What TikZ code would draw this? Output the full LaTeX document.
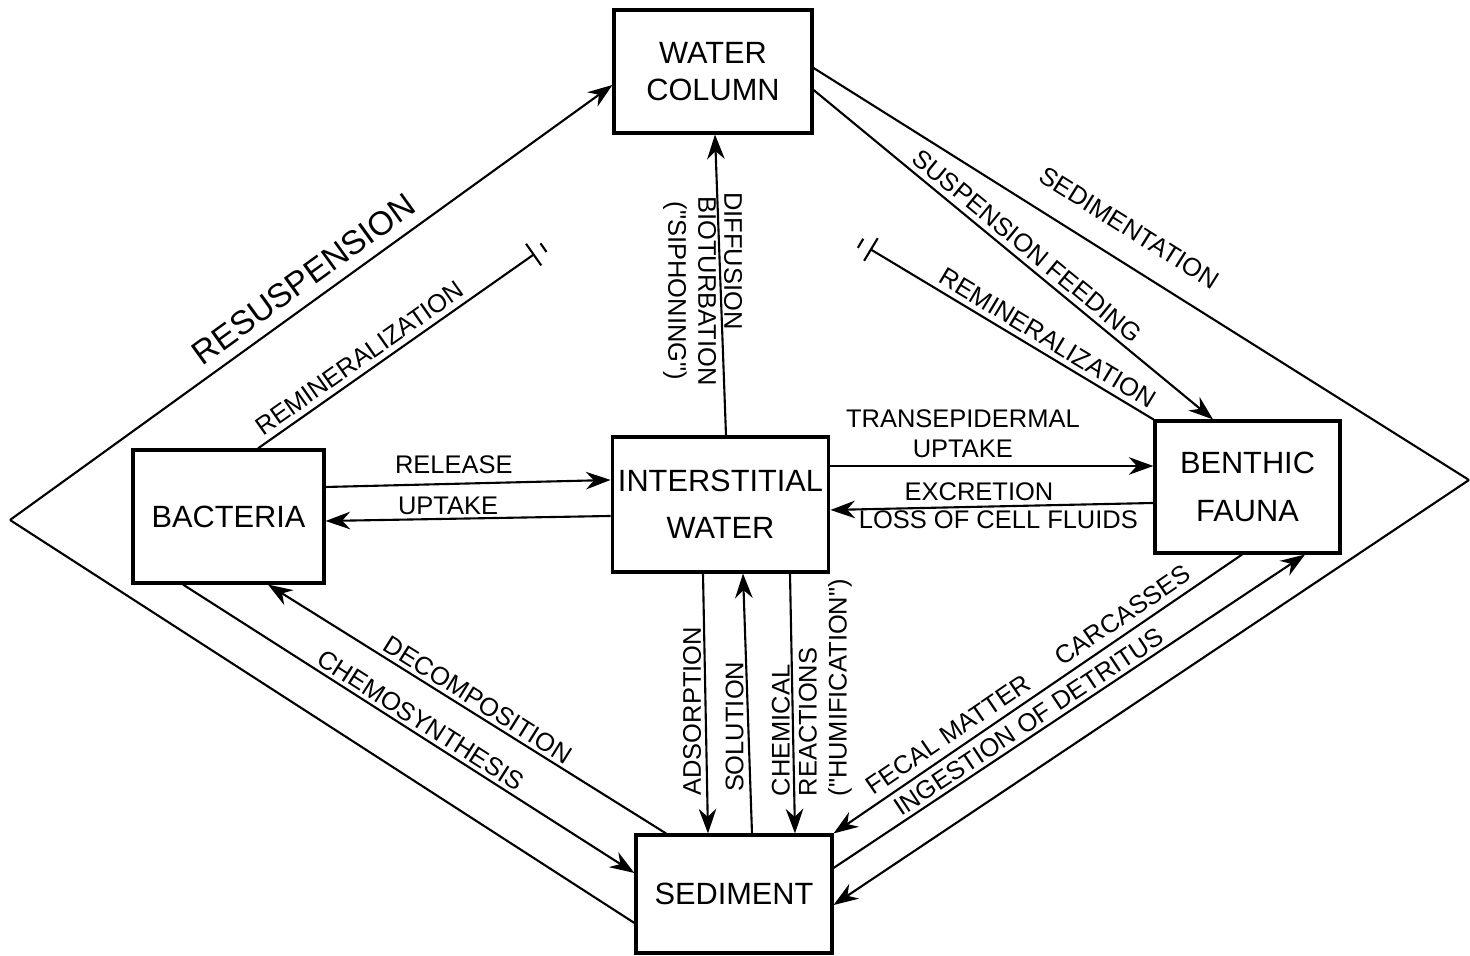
\documentclass[tikz,border=0pt]{standalone}
\usepackage{fontspec}
\setmainfont{Liberation Sans}
\usetikzlibrary{arrows.meta,calc}

\begin{document}
\begin{tikzpicture}[>={Stealth[length=14pt,width=10pt]},
    pool/.style={rectangle, draw, line width=1.8pt, align=center, font=\fontsize{17.5}{21}\selectfont},
    flow/.style={line width=1.2pt},
    lbl/.style={font=\fontsize{14.5}{17}\selectfont, inner sep=2pt},
    stopbar/.style={-{Bar[width=15pt]}},
    barstop/.style={{Bar[width=15pt]}-}]

    \useasboundingbox (0,0) rectangle (29.4,19.12);

    % compartments
    \node[pool, minimum width=3.96cm, minimum height=2.46cm] (wcol) at (14.26,17.69) {WATER\\COLUMN};
    \node[pool, minimum width=3.82cm, minimum height=2.66cm] (bact) at (4.57,8.79) {BACTERIA};
    \node[pool, minimum width=3.9cm, minimum height=2.7cm] (iwat) at (14.41,9.03) {INTERSTITIAL\\[6pt]WATER};
    \node[pool, minimum width=3.7cm, minimum height=2.64cm] (bfau) at (24.95,9.38) {BENTHIC\\[6pt]FAUNA};
    \node[pool, minimum width=3.92cm, minimum height=2.36cm] (sedi) at (14.68,1.24) {SEDIMENT};

    \coordinate (lv) at (0.2,8.72);
    \coordinate (rv) at (29.38,9.52);
    \coordinate (rl) at (10.69,14.04);
    \coordinate (rr) at (17.40,14.14);
    \coordinate (rls) at ([xshift=0.59cm]bact.north);
    \coordinate (rlx) at ($(rl)!-0.22cm!(rls)$);
    \coordinate (rrx) at ($(rr)!-0.22cm!(bfau.north west)$);

    % outer diamond
    \draw[flow, ->] (lv) -- node[lbl, sloped, above=4pt, pos=0.51, font=\fontsize{19}{22}\selectfont] {RESUSPENSION} ([yshift=-0.27cm]wcol.west);
    \draw[flow] (lv) -- ([yshift=-0.58cm]sedi.west);
    \draw[flow] ([yshift=0.07cm]wcol.east) -- node[lbl, sloped, above=0.38cm, pos=0.455] {SEDIMENTATION} (rv);
    \draw[flow, ->] (rv) -- ([yshift=-0.22cm]sedi.east);

    % water column
    \draw[flow, ->] ([yshift=-0.37cm]wcol.east) -- node[lbl, sloped, above=1pt, pos=0.51] {SUSPENSION FEEDING} ([xshift=-0.69cm]bfau.north);
    \draw[flow, stopbar] (rls) -- node[lbl, sloped, above=1pt, pos=0.4] {REMINERALIZATION} (rl);
    \draw[flow] ($(rlx)!3pt!90:(rl)$) -- ($(rlx)!3pt!-90:(rl)$);
    \draw[flow, barstop] (rr) -- node[lbl, sloped, above=1pt, pos=0.6] {REMINERALIZATION} (bfau.north west);
    \draw[flow] ($(rrx)!3pt!90:(rr)$) -- ($(rrx)!3pt!-90:(rr)$);
    \draw[flow, ->] ([xshift=0.11cm]iwat.north) --
        node[lbl, rotate=-90, above, pos=0.58] {DIFFUSION}
        node[lbl, rotate=-90, below, pos=0.48, align=center] {BIOTURBATION\\(\textquotedbl SIPHONING\textquotedbl)}
        ([xshift=0.04cm]wcol.south);

    % interstitial water
    \draw[flow, ->] ([yshift=0.59cm]bact.east) -- node[lbl, above=3pt, pos=0.45] {RELEASE} ([yshift=0.49cm]iwat.west);
    \draw[flow, ->] ([yshift=-0.23cm]iwat.west) -- node[lbl, above=0pt, pos=0.57] {UPTAKE} ([yshift=-0.09cm]bact.east);
    \draw[flow, ->] ([yshift=0.77cm]iwat.east) -- node[lbl, above=2pt, pos=0.41, align=center] {TRANSEPIDERMAL\\UPTAKE} ([yshift=0.42cm]bfau.west);
    \draw[flow, ->] ([yshift=-0.32cm]bfau.west) --
        node[lbl, above=1pt, pos=0.54] {EXCRETION}
        node[lbl, below=0pt, pos=0.48] {LOSS OF CELL FLUIDS}
        ([yshift=-0.11cm]iwat.east);
    \draw[flow, ->] ([xshift=-0.35cm]iwat.south) -- node[lbl, rotate=90, above, pos=0.53] {ADSORPTION} ([xshift=-0.52cm]sedi.north);
    \draw[flow, ->] ([xshift=0.36cm]sedi.north) -- node[lbl, rotate=90, above, pos=0.41] {SOLUTION} ([xshift=0.45cm]iwat.south);
    \draw[flow, ->] ([xshift=1.39cm]iwat.south) --
        node[lbl, rotate=90, anchor=south west, pos=0.875] {CHEMICAL}
        node[lbl, rotate=90, anchor=north west, pos=0.875, align=left] {REACTIONS\\(\textquotedbl HUMIFICATION\textquotedbl)}
        ([xshift=1.22cm]sedi.north);

    % sediment
    \draw[flow, <-] ([xshift=0.79cm]bact.south) -- node[lbl, sloped, above, pos=0.51] {DECOMPOSITION} ([xshift=-1.36cm]sedi.north);
    \draw[flow, ->] ([xshift=-0.91cm]bact.south) -- node[lbl, sloped, above=0pt, pos=0.51] {CHEMOSYNTHESIS} ([yshift=0.42cm]sedi.west);
    \draw[flow, <-] (sedi.north east) -- node[lbl, sloped, above=2pt, pos=0.5] {FECAL MATTER\quad\, CARCASSES} ([xshift=-0.11cm]bfau.south);
    \draw[flow, ->] ([yshift=0.52cm]sedi.east) -- node[lbl, sloped, above=0pt, pos=0.43] {INGESTION OF DETRITUS} ([xshift=1.15cm]bfau.south);

\end{tikzpicture}
\end{document}
